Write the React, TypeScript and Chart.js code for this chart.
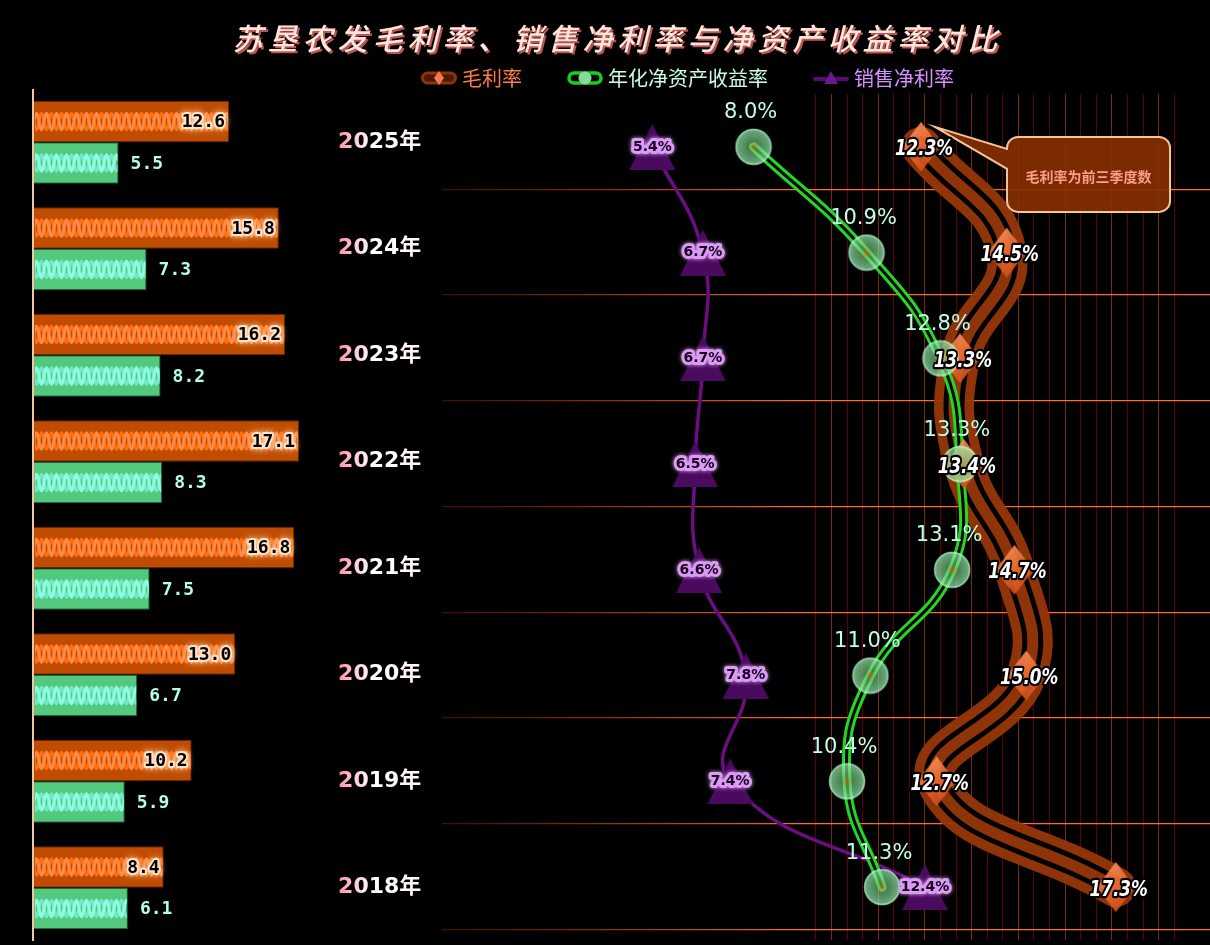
import React, { useEffect, useRef } from 'react';
import { Chart, registerables } from 'chart.js';

Chart.register(...registerables);

// ---------------- data ----------------
const TITLE = '苏垦农发毛利率、销售净利率与净资产收益率对比';
const NOTE = '毛利率为前三季度数';
const YEARS = ['2025年', '2024年', '2023年', '2022年', '2021年', '2020年', '2019年', '2018年'];
const BAR_ORANGE = [12.6, 15.8, 16.2, 17.1, 16.8, 13.0, 10.2, 8.4];
const BAR_GREEN = [5.5, 7.3, 8.2, 8.3, 7.5, 6.7, 5.9, 6.1];
const GROSS_MARGIN = [12.3, 14.5, 13.3, 13.4, 14.7, 15.0, 12.7, 17.3];
const ROE = [8.0, 10.9, 12.8, 13.3, 13.1, 11.0, 10.4, 11.3];
const NET_MARGIN = [5.4, 6.7, 6.7, 6.5, 6.6, 7.8, 7.4, 12.4];
const SERIES_NAMES = ['毛利率', '年化净资产收益率', '销售净利率'];
const SERIES_TEXT_COLORS = ['#ff7a45', '#c8ffe8', '#d590ff'];
const ROW_GRID = [0, 1, 2, 3, 4, 5, 6, 7];
const VGRID_FROM = 9.6;
const VGRID_TO = 19.0;
const VGRID_STEP = 0.4;

// ---------------- helpers ----------------
function makeCanvas(w: number, h: number, draw: (c: CanvasRenderingContext2D) => void) {
  const cv = document.createElement('canvas');
  cv.width = w;
  cv.height = h;
  const c = cv.getContext('2d')!;
  draw(c);
  return cv;
}

function pill(c: CanvasRenderingContext2D, x: number, y: number, w: number, h: number) {
  const r = h / 2;
  c.beginPath();
  c.moveTo(x + r, y);
  c.lineTo(x + w - r, y);
  c.arc(x + w - r, y + r, r, -Math.PI / 2, Math.PI / 2);
  c.lineTo(x + r, y + h);
  c.arc(x + r, y + r, r, Math.PI / 2, Math.PI * 1.5);
  c.closePath();
}

function buildImages() {
  const diamond = makeCanvas(38, 50, (c) => {
    const g = c.createLinearGradient(4, 0, 34, 50);
    g.addColorStop(0, '#ff9c6c');
    g.addColorStop(0.5, '#f06a30');
    g.addColorStop(1, '#c94812');
    c.globalAlpha = 0.9;
    c.beginPath();
    c.moveTo(19, 0);
    c.lineTo(38, 25);
    c.lineTo(19, 50);
    c.lineTo(0, 25);
    c.closePath();
    c.fillStyle = g;
    c.fill();
  });
  const circle = makeCanvas(38, 38, (c) => {
    const g = c.createRadialGradient(19, 19, 0, 19, 19, 17.5);
    g.addColorStop(0, 'rgba(200,130,30,0.8)');
    g.addColorStop(0.3, 'rgba(120,205,130,0.62)');
    g.addColorStop(1, 'rgba(150,240,180,0.72)');
    c.beginPath();
    c.arc(19, 19, 17.5, 0, Math.PI * 2);
    c.fillStyle = g;
    c.fill();
    c.lineWidth = 1.5;
    c.strokeStyle = 'rgba(190,255,215,0.7)';
    c.stroke();
  });
  const triangle = makeCanvas(46, 46, (c) => {
    c.beginPath();
    c.moveTo(23, 0);
    c.lineTo(46, 46);
    c.lineTo(0, 46);
    c.closePath();
    c.fillStyle = '#4a0a5e';
    c.fill();
  });
  const leg1 = makeCanvas(36, 16, (c) => {
    pill(c, 1.5, 3, 33, 10);
    c.fillStyle = 'rgba(80,25,0,0.95)';
    c.fill();
    c.lineWidth = 3;
    c.strokeStyle = '#8e3408';
    c.stroke();
    c.beginPath();
    c.moveTo(18, 1);
    c.lineTo(23, 8);
    c.lineTo(18, 15);
    c.lineTo(13, 8);
    c.closePath();
    c.fillStyle = '#f07a4a';
    c.fill();
  });
  const leg2 = makeCanvas(36, 16, (c) => {
    pill(c, 2, 3, 32, 10);
    c.fillStyle = '#000';
    c.fill();
    c.lineWidth = 3.5;
    c.strokeStyle = '#18d018';
    c.stroke();
    c.beginPath();
    c.arc(18, 8, 6.5, 0, Math.PI * 2);
    c.fillStyle = '#86dc9c';
    c.fill();
  });
  const leg3 = makeCanvas(36, 16, (c) => {
    c.beginPath();
    c.moveTo(2, 9);
    c.lineTo(34, 9);
    c.lineWidth = 4;
    c.lineCap = 'round';
    c.strokeStyle = '#5a0a70';
    c.stroke();
    c.beginPath();
    c.moveTo(18, 1);
    c.lineTo(25, 14);
    c.lineTo(11, 14);
    c.closePath();
    c.fillStyle = '#6a1a8a';
    c.fill();
  });
  return { diamond, circle, triangle, legend: [leg1, leg2, leg3] };
}

// ---------------- left bar chart plugin ----------------
const barDecorPlugin = {
  id: 'barDecor',
  afterDatasetsDraw(chart: any) {
    const ctx: CanvasRenderingContext2D = chart.ctx;
    chart.data.datasets.forEach((_ds: any, di: number) => {
      const meta = chart.getDatasetMeta(di);
      meta.data.forEach((bar: any, i: number) => {
        const p = bar.getProps(['x', 'y', 'base', 'height'], true);
        const left = Math.min(p.base, p.x);
        const right = Math.max(p.base, p.x);
        const top = p.y - p.height / 2;
        // rope texture
        ctx.save();
        ctx.beginPath();
        ctx.rect(left + 1, top + 1, right - left - 2, p.height - 2);
        ctx.clip();
        ctx.lineWidth = 3;
        ctx.lineCap = 'round';
        const A = 8;
        const P = 10;
        const cols = di === 0 ? ['#ff6e10', '#ff8a45'] : ['#72e8c8', '#8ffbe0'];
        [1, -1].forEach((s, k) => {
          ctx.strokeStyle = cols[k];
          ctx.beginPath();
          for (let xx = left; xx <= right; xx += 0.5) {
            const yy = p.y + s * A * Math.sin((2 * Math.PI * (xx - left)) / P);
            if (xx === left) ctx.moveTo(xx, yy);
            else ctx.lineTo(xx, yy);
          }
          ctx.stroke();
        });
        ctx.restore();
        // value labels
        const v = chart.data.datasets[di].data[i];
        const txt = Number(v).toFixed(1);
        ctx.save();
        ctx.font = 'bold 18px "DejaVu Sans Mono", monospace';
        ctx.textBaseline = 'middle';
        if (di === 0) {
          ctx.textAlign = 'right';
          ctx.lineJoin = 'round';
          ctx.shadowColor = 'rgba(255,225,190,0.95)';
          ctx.shadowBlur = 7;
          ctx.lineWidth = 4;
          ctx.strokeStyle = '#ffe2c8';
          ctx.strokeText(txt, p.x - 4, p.y + 1);
          ctx.shadowBlur = 0;
          ctx.fillStyle = '#000';
          ctx.fillText(txt, p.x - 4, p.y + 1);
        } else {
          ctx.textAlign = 'left';
          ctx.fillStyle = '#b4ffe4';
          ctx.fillText(txt, p.x + 12, p.y + 1);
        }
        ctx.restore();
      });
    });
  },
};

// ---------------- right line chart plugin ----------------
const IDX_GM_PTS = 3;
const IDX_ROE_PTS = 6;
const IDX_NM_PTS = 8;

const lineLabelPlugin = {
  id: 'lineLabels',
  afterDraw(chart: any) {
    const ctx: CanvasRenderingContext2D = chart.ctx;
    const xs = chart.scales.x;
    const ys = chart.scales.y;

    // annotation callout
    const px = xs.getPixelForValue(GROSS_MARGIN[0]);
    const py = ys.getPixelForValue(0);
    const tipX = px + 14;
    const tipY = py - 20;
    const left = px + 86;
    const top = py - 10;
    const w = 163;
    const h = 75;
    const r = 11;
    ctx.save();
    ctx.beginPath();
    ctx.moveTo(left + r, top);
    ctx.lineTo(left + w - r, top);
    ctx.arcTo(left + w, top, left + w, top + r, r);
    ctx.lineTo(left + w, top + h - r);
    ctx.arcTo(left + w, top + h, left + w - r, top + h, r);
    ctx.lineTo(left + r, top + h);
    ctx.arcTo(left, top + h, left, top + h - r, r);
    ctx.lineTo(left, py + 22);
    ctx.lineTo(tipX, tipY);
    ctx.lineTo(left, py + 2);
    ctx.lineTo(left, top + r);
    ctx.arcTo(left, top, left + r, top, r);
    ctx.closePath();
    ctx.fillStyle = 'rgba(135,48,0,0.9)';
    ctx.fill();
    ctx.lineWidth = 2;
    ctx.strokeStyle = '#f6c49a';
    ctx.stroke();
    ctx.font = 'bold 14px "Noto Sans CJK SC", sans-serif';
    ctx.textAlign = 'center';
    ctx.textBaseline = 'middle';
    ctx.fillStyle = '#ff9c8c';
    ctx.fillText(NOTE, left + w / 2, top + h / 2 + 2);
    ctx.restore();

    // purple labels
    ctx.save();
    ctx.textAlign = 'center';
    ctx.textBaseline = 'middle';
    ctx.lineJoin = 'round';
    chart.getDatasetMeta(IDX_NM_PTS).data.forEach((pt: any, i: number) => {
      const t = NET_MARGIN[i].toFixed(1) + '%';
      ctx.font = 'bold 14px "DejaVu Sans", sans-serif';
      ctx.shadowColor = 'rgba(230,170,255,0.9)';
      ctx.shadowBlur = 4;
      ctx.lineWidth = 6;
      ctx.strokeStyle = '#d99cf2';
      ctx.strokeText(t, pt.x, pt.y);
      ctx.shadowBlur = 0;
      ctx.fillStyle = '#1a0024';
      ctx.fillText(t, pt.x, pt.y);
    });
    ctx.restore();

    // green labels
    ctx.save();
    ctx.textAlign = 'center';
    ctx.textBaseline = 'middle';
    ctx.font = '21px "DejaVu Sans", sans-serif';
    ctx.fillStyle = '#c0ffe8';
    chart.getDatasetMeta(IDX_ROE_PTS).data.forEach((pt: any, i: number) => {
      ctx.fillText(ROE[i].toFixed(1) + '%', pt.x - 3, pt.y - 34);
    });
    ctx.restore();

    // orange labels (condensed italic bold)
    ctx.save();
    ctx.textAlign = 'center';
    ctx.textBaseline = 'middle';
    ctx.lineJoin = 'round';
    ctx.font = 'italic bold 21px "DejaVu Sans", sans-serif';
    chart.getDatasetMeta(IDX_GM_PTS).data.forEach((pt: any, i: number) => {
      const t = GROSS_MARGIN[i].toFixed(1) + '%';
      ctx.save();
      ctx.translate(pt.x + 3, pt.y + 3);
      ctx.scale(0.8, 1);
      ctx.lineWidth = 4.5;
      ctx.strokeStyle = '#000';
      ctx.strokeText(t, 0, 0);
      ctx.fillStyle = '#ffffff';
      ctx.fillText(t, 0, 0);
      ctx.restore();
    });
    ctx.restore();
  },
};

export default function App() {
  const aRef = useRef<HTMLCanvasElement>(null);
  const bRef = useRef<HTMLCanvasElement>(null);

  useEffect(() => {
    const img = buildImages();

    const vgrid: number[] = [];
    for (let v = VGRID_FROM; v <= VGRID_TO + 1e-6; v += VGRID_STEP) vgrid.push(Math.round(v * 10) / 10);

    // tick labels are drawn in a translated frame (origin at the label start)
    const actx = aRef.current!.getContext('2d')!;
    const yearGrad = actx.createLinearGradient(0, 0, 84, 0);
    yearGrad.addColorStop(0, '#ff8ea4');
    yearGrad.addColorStop(0.18, '#ffc4d0');
    yearGrad.addColorStop(0.4, '#ffffff');
    yearGrad.addColorStop(1, '#fff2f5');

    const chartA = new Chart(aRef.current!, {
      type: 'bar',
      data: {
        labels: YEARS,
        datasets: [
          {
            label: 'A',
            data: BAR_ORANGE,
            backgroundColor: '#bf4c00',
            borderColor: '#6a2200',
            borderWidth: 1,
            categoryPercentage: 0.78,
            barPercentage: 1,
          },
          {
            label: 'B',
            data: BAR_GREEN,
            backgroundColor: '#52c97c',
            borderColor: '#1b5e34',
            borderWidth: 1,
            categoryPercentage: 0.78,
            barPercentage: 1,
          },
        ],
      },
      options: {
        indexAxis: 'y',
        responsive: false,
        maintainAspectRatio: false,
        animation: false,
        devicePixelRatio: 1,
        layout: { autoPadding: false, padding: { left: 33, right: 0, top: 89, bottom: 4 } },
        plugins: {
          legend: { display: false },
          title: { display: false },
          tooltip: { enabled: false },
        },
        scales: {
          x: {
            min: 0,
            max: 19,
            z: 1,
            afterFit: (s: any) => {
              s.height = 0;
              s.paddingLeft = 0;
              s.paddingRight = 0;
            },
            ticks: { display: false },
            border: { display: false },
            grid: {
              drawTicks: false,
              lineWidth: 2,
              color: (c: any) => (c.tick && c.tick.value === 0 ? '#f2c6a4' : 'transparent'),
            },
          },
          y: {
            position: 'right',
            afterFit: (s: any) => {
              s.width = 111.4;
              s.paddingTop = 0;
              s.paddingBottom = 0;
            },
            grid: { display: false, drawTicks: false },
            border: { display: false },
            ticks: {
              padding: 9.5,
              font: { family: '"DejaVu Sans", "Noto Sans CJK SC", sans-serif', size: 22, weight: 'bold' },
              color: yearGrad,
            },
          },
        },
      } as any,
      plugins: [barDecorPlugin],
    });

    const lineBase = {
      fill: false,
      pointRadius: 0,
      pointHoverRadius: 0,
      borderJoinStyle: 'round',
      borderCapStyle: 'round',
      tension: 0.45,
    };
    const ptsBase = {
      showLine: false,
      pointRadius: 18,
      pointHoverRadius: 18,
      pointBorderWidth: 0,
      pointBackgroundColor: 'transparent',
    };

    const chartB = new Chart(bRef.current!, {
      type: 'line',
      data: {
        labels: YEARS,
        datasets: [
          { ...lineBase, label: SERIES_NAMES[0], data: GROSS_MARGIN, borderColor: 'rgba(150,55,8,0.95)', borderWidth: 40, order: 10 },
          { ...lineBase, label: SERIES_NAMES[0] + '_m', data: GROSS_MARGIN, borderColor: '#000', borderWidth: 21, order: 9 },
          { ...lineBase, label: SERIES_NAMES[0] + '_i', data: GROSS_MARGIN, borderColor: 'rgba(150,55,8,0.95)', borderWidth: 11, order: 8 },
          { ...ptsBase, label: SERIES_NAMES[0] + '_p', data: GROSS_MARGIN, pointStyle: img.diamond, order: 4 },
          { ...lineBase, label: SERIES_NAMES[1], data: ROE, borderColor: '#22d822', borderWidth: 9, order: 6 },
          { ...lineBase, label: SERIES_NAMES[1] + '_i', data: ROE, borderColor: '#000', borderWidth: 3, order: 5 },
          { ...ptsBase, label: SERIES_NAMES[1] + '_p', data: ROE, pointStyle: img.circle, order: 2 },
          { ...lineBase, label: SERIES_NAMES[2], data: NET_MARGIN, borderColor: '#6c0d82', borderWidth: 3.5, order: 7 },
          { ...ptsBase, label: SERIES_NAMES[2] + '_p', data: NET_MARGIN, pointStyle: img.triangle, order: 3 },
        ],
      } as any,
      options: {
        indexAxis: 'y',
        responsive: false,
        maintainAspectRatio: false,
        animation: false,
        devicePixelRatio: 1,
        layout: { autoPadding: false, padding: { left: 0, right: 0, top: 18, bottom: 5 } },
        plugins: {
          title: { display: false },
          tooltip: { enabled: false },
          legend: {
            display: true,
            position: 'top',
            align: 'center',
            maxHeight: 76,
            onClick: () => {},
            labels: {
              usePointStyle: true,
              pointStyleWidth: 26,
              boxHeight: 20,
              padding: 50,
              font: { size: 20, family: '"Noto Sans CJK SC", sans-serif' },
              generateLabels: () =>
                SERIES_NAMES.map((name, i) => ({
                  text: name,
                  fontColor: SERIES_TEXT_COLORS[i],
                  pointStyle: img.legend[i],
                  fillStyle: 'transparent',
                  strokeStyle: 'transparent',
                  lineWidth: 0,
                  hidden: false,
                  datasetIndex: [IDX_GM_PTS, IDX_ROE_PTS, IDX_NM_PTS][i],
                })),
            },
          },
        },
        scales: {
          x: {
            type: 'linear',
            min: 0,
            max: 19.72,
            z: 1,
            afterFit: (s: any) => {
              s.height = 0;
              s.paddingLeft = 0;
              s.paddingRight = 0;
            },
            ticks: { display: false },
            border: { display: false },
            afterBuildTicks: (s: any) => {
              s.ticks = vgrid.map((v) => ({ value: v }));
            },
            grid: {
              drawTicks: false,
              lineWidth: 1,
              color: (c: any) => (c.index % 3 === 1 ? 'rgba(160,60,15,0.75)' : 'rgba(110,0,0,0.85)'),
            },
          },
          y: {
            type: 'category',
            offset: true,
            afterFit: (s: any) => {
              s.width = 272;
              s.paddingTop = 0;
              s.paddingBottom = 0;
            },
            ticks: { display: false },
            grid: { display: false, drawTicks: false },
            border: { display: false },
          },
          yg: {
            type: 'linear',
            position: 'right',
            min: -0.1,
            max: 7.9,
            z: 1,
            afterFit: (s: any) => {
              s.width = 0;
              s.paddingTop = 0;
              s.paddingBottom = 0;
            },
            ticks: { display: false },
            border: { display: false },
            afterBuildTicks: (s: any) => {
              s.ticks = ROW_GRID.map((v) => ({ value: v }));
            },
            grid: {
              drawTicks: false,
              lineWidth: 1.2,
              color: (c: any) => {
                const ca = c.chart.chartArea;
                if (!ca) return '#ff6a35';
                const g = c.chart.ctx.createLinearGradient(ca.left, 0, ca.left + 360, 0);
                g.addColorStop(0, 'rgba(120,20,0,0.6)');
                g.addColorStop(1, '#ff6a35');
                return g;
              },
            },
          },
        },
      } as any,
      plugins: [lineLabelPlugin],
    });

    return () => {
      chartA.destroy();
      chartB.destroy();
    };
  }, []);

  return (
    <div
      style={{
        position: 'fixed',
        left: 0,
        top: 0,
        width: 1210,
        height: 945,
        background: '#000',
        overflow: 'hidden',
      }}
    >
      <canvas
        ref={bRef}
        width={1040}
        height={945}
        style={{ position: 'absolute', left: 170, top: 0, width: 1040, height: 945 }}
      />
      <canvas
        ref={aRef}
        width={440}
        height={945}
        style={{ position: 'absolute', left: 0, top: 0, width: 440, height: 945 }}
      />
      <div
        style={{
          position: 'absolute',
          left: 0,
          top: 19,
          width: 1235,
          textAlign: 'center',
          fontFamily: '"Noto Sans CJK SC", sans-serif',
          fontSize: 30,
          lineHeight: '36px',
          fontStyle: 'italic',
          fontWeight: 500,
          letterSpacing: '5px',
          color: '#ffe6da',
          textShadow: '2px 2px 0 rgba(255,110,110,0.75)',
          whiteSpace: 'nowrap',
        }}
      >
        {TITLE}
      </div>
    </div>
  );
}
